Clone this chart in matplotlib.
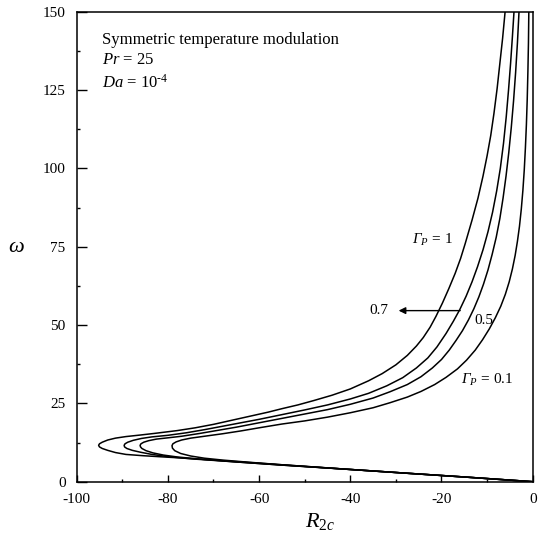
import numpy as np
import matplotlib
matplotlib.use("Agg")
import matplotlib.pyplot as plt
from matplotlib.ticker import MultipleLocator

plt.rcParams['font.family'] = ['Liberation Serif', 'DejaVu Serif']
plt.rcParams['mathtext.fontset'] = 'custom'
plt.rcParams['mathtext.rm'] = 'Liberation Serif'
plt.rcParams['mathtext.it'] = 'Liberation Serif:italic'
plt.rcParams['mathtext.bf'] = 'Liberation Serif:bold'
# sf slot used for the slanted capital Gamma
plt.rcParams['mathtext.sf'] = 'Liberation Serif:italic'
plt.rcParams['axes.unicode_minus'] = False

# ------------------------------
# Neutral curves: critical R2 vs modulation frequency omega
# (lower branch from the origin, round the nose, up the upper branch)
# ------------------------------

# Gamma_P = 1
R_g1 = [0, -5, -15, -27.6, -40, -55, -65, -75, -81, -85.5, -89.2, -91.5, -93.2,
        -94.4, -95.0, -95.2, -95.0, -94.4, -93.2, -91.5, -89.2, -86, -83, -78,
        -74, -70, -66, -62, -58, -55, -51.5, -48, -44, -40, -36, -33, -30, -27.5,
        -25.5, -24, -22.5, -21.2, -19.8, -18.4, -17, -15.8, -14.8, -13.3, -12.0,
        -10.9, -10.0, -9.2, -8.5, -7.8, -7.2, -6.6, -6.05]
w_g1 = [0, 0.5, 1.5, 2.7, 3.9, 5.4, 6.4, 7.4, 7.9, 8.3, 8.7, 9.3, 10.0,
        10.6, 11.1, 11.6, 12.1, 12.6, 13.3, 13.9, 14.4, 14.9, 15.4, 16.3,
        17.2, 18.3, 19.6, 20.9, 22.2, 23.3, 24.5, 25.9, 27.6, 29.6, 32.2, 34.5, 37.3, 40.3,
        43.3, 46.0, 49.3, 52.8, 57, 61.6, 66.5, 71.3, 76, 83.5, 90.5,
        97.5, 104, 110.5, 117.5, 125.5, 133.5, 141.5, 150]

# Gamma_P = 0.7
R_g07 = [0, -5, -15, -27.6, -40, -55, -65, -75, -80, -83.5, -86, -87.8, -89,
         -89.5, -89.6, -89.4, -88.8, -87.6, -85.8, -83.5, -80, -76, -72, -68,
         -64, -60, -55, -50, -45, -40, -36, -32, -28.5, -25.5, -23, -21, -19,
         -17.4, -16, -14.6, -13.3, -12.1, -10.9, -9.8, -8.8, -7.9, -7.1, -6.4,
         -5.8, -5.3, -4.85, -4.45, -4.1]
w_g07 = [0, 0.5, 1.5, 2.7, 3.9, 5.3, 6.3, 7.3, 8.0, 8.7, 9.4, 10.0, 10.6,
         11.1, 11.6, 12.1, 12.6, 13.2, 13.8, 14.3, 14.8, 15.6, 16.6, 17.7,
         18.8, 19.9, 21.4, 22.9, 24.5, 26.4, 28.2, 30.6, 33.2, 36.3, 39.5, 43, 47.3,
         51.2, 54.9, 59.2, 63.8, 68.6, 74, 79.8, 86, 92.8, 100, 108,
         116.5, 125, 133.5, 142, 150]

# Gamma_P = 0.5
R_g05 = [0, -5, -15, -27.6, -40, -55, -65, -73, -78, -81, -83.3, -84.8, -85.7,
         -86.0, -86.1, -85.9, -85.3, -84.2, -82.5, -80, -77, -73, -69, -65,
         -60, -55, -50, -45, -40, -35, -31.3, -27.5, -24.5, -22, -20, -18.3,
         -16.8, -15.4, -14.1, -12.9, -11.8, -10.8, -9.8, -8.9, -8.0, -7.2,
         -6.5, -5.85, -5.25, -4.7, -4.2, -3.75, -3.35, -3.0]
w_g05 = [0, 0.5, 1.5, 2.7, 3.9, 5.3, 6.3, 7.2, 7.9, 8.5, 9.2, 9.9, 10.6,
         11.1, 11.6, 12.1, 12.6, 13.1, 13.6, 14.0, 14.5, 15.4, 16.4, 17.4,
         18.8, 20.2, 21.6, 23.0, 24.7, 26.7, 28.7, 31.0, 33.5, 36.3, 39, 42,
         45.1, 48.2, 51.6, 55.2, 59, 63, 67.6, 72.5, 78, 84,
         90.5, 97.5, 105, 113, 121.5, 130.5, 140, 150]

# Gamma_P = 0.1
R_g01 = [0, -5, -15, -27.6, -40, -55, -63, -68, -72, -75, -77.2, -78.5, -79.0,
         -79.1, -78.9, -78.2, -77, -75, -72, -68, -64, -60, -55, -50, -45, -40,
         -35, -31.3, -27.5, -24.5, -21.5, -19, -16.5, -14.5, -12.6, -11.0, -9.5,
         -8.2, -7.0, -6.0, -5.15, -4.45, -3.85, -3.35, -2.9, -2.5, -2.15, -1.85,
         -1.6, -1.38, -1.2, -1.05, -0.93, -0.85]
w_g01 = [0, 0.5, 1.5, 2.7, 3.9, 5.4, 6.3, 6.9, 7.5, 8.2, 9.0, 9.9, 10.7,
         11.5, 12.1, 12.7, 13.3, 13.9, 14.5, 15.3, 16.2, 17.2, 18.4, 19.4, 20.6, 22.0,
         23.6, 25.2, 27.0, 28.8, 31.0, 33.3, 36, 38.8, 42, 45.3, 48.8,
         52.3, 56, 59.8, 63.8, 67.9, 72.2, 76.7, 81.5, 87, 93, 99.5,
         106.5, 114, 122, 131, 140, 150]

curves = [(R_g1, w_g1), (R_g07, w_g07), (R_g05, w_g05), (R_g01, w_g01)]

# ------------------------------
# Plotting
# ------------------------------

fig = plt.figure(figsize=(5.39, 5.5), dpi=100)
ax = fig.add_axes([0.1423, 0.1242, 0.8460, 0.8545])

for R, w in curves:
    ax.plot(R, w, color='black', lw=1.1, solid_joinstyle='round')

ax.set_xlim(-100, 0)
ax.set_ylim(0, 150)
ax.xaxis.set_major_locator(MultipleLocator(20))
ax.xaxis.set_minor_locator(MultipleLocator(10))
ax.yaxis.set_major_locator(MultipleLocator(25))
ax.yaxis.set_minor_locator(MultipleLocator(12.5))
ax.tick_params(axis='both', which='both', direction='in', top=False, right=False,
               labelsize=11, width=1.0)
ax.tick_params(axis='y', which='major', length=7, pad=8)
ax.tick_params(axis='x', which='major', length=5, pad=8)
ax.tick_params(axis='both', which='minor', length=2.5)
for s in ax.spines.values():
    s.set_linewidth(1.1)

# parameters
ax.text(-94.5, 141, "Symmetric temperature modulation", fontsize=12, va='center')
ax.text(-94.5, 134.6, r"$Pr$ = 25", fontsize=12, va='center')
ax.text(-94.5, 127.3, r"$Da$ = 10$^{\text{-}4}$", fontsize=12, va='center')

# curve labels
ax.text(-22, 77, r"$\mathsf{\Gamma}_P$ = 1", fontsize=11, ha='center', va='center')
ax.text(-10, 32.5, r"$\mathsf{\Gamma}_P$ = 0.1", fontsize=11, ha='center', va='center')
ax.text(-10.8, 51.6, "0.5", fontsize=11, ha='center', va='center')
ax.text(-33.8, 54.6, "0.7", fontsize=11, ha='center', va='center')
ax.annotate('', xy=(-29.4, 54.6), xytext=(-15.9, 54.6),
            arrowprops=dict(arrowstyle='-|>', color='black', lw=1.0,
                            mutation_scale=10, shrinkA=0, shrinkB=0))

fig.text(16.7 / 539, 1 - 247 / 550, r"$\omega$", fontsize=16, ha='center', va='center')
fig.text(305 / 539, 1 - 522 / 550, r"$R_{2c}$", fontsize=16, ha='left', va='center')

fig.savefig("out.png", dpi=100)
